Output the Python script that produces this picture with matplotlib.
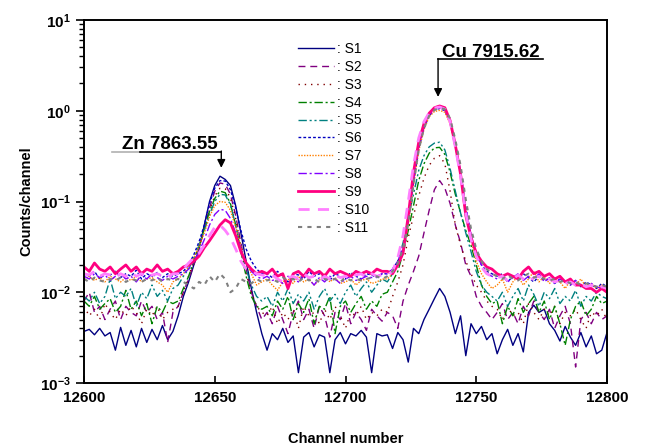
import numpy as np
import matplotlib
matplotlib.use('Agg')
import matplotlib.pyplot as plt
from matplotlib.ticker import FixedLocator, LogLocator, NullFormatter, FuncFormatter

plt.rcParams['font.family'] = ['Liberation Sans', 'DejaVu Sans']
plt.rcParams['mathtext.fontset'] = 'custom'
plt.rcParams['mathtext.rm'] = 'Liberation Sans'
plt.rcParams['mathtext.bf'] = 'Liberation Sans:bold'

# channels (every 2nd channel) and counts per channel in units of 1e-3
channel = np.arange(12600, 12801, 2)

s1 = [3.7, 3.9, 3.4, 4.0, 3.3, 3.6, 2.3, 4.1, 2.6, 3.8, 2.5, 4.0, 2.8, 3.9, 3.0, 4.3, 3.0, 3.7,
      5.5, 9, 13, 20, 30, 55, 100, 150, 190, 175, 150, 90, 45, 22, 11, 6, 3.5,
      2.3, 3.5, 3.0, 4.0, 2.8, 3.3, 1.3, 3.2, 3.6, 2.5, 3.4, 3.2, 1.3, 3.0, 3.6, 2.7, 3.5, 3.3, 3.8,
      3.2, 1.3, 3.5, 3.3, 3.4, 2.4, 3.6, 3.0,
      1.7, 4.0, 3.5, 5.0, 6.5, 8.5, 11, 9, 6, 3.5, 5.5, 2.0, 4.5, 3.5, 4.2,
      3.0, 3.5, 2.1, 3.0, 3.9, 2.6, 3.5, 2.2, 6.0, 7.2, 6.0, 6.5, 4.5, 3.8, 2.9, 4.2, 3.2, 2.6,
      3.6, 2.5, 3.3, 2.1, 2.3, 3.6]
s2 = [8, 10, 6, 7, 5, 6.5, 8, 5, 7, 6, 5.5, 8, 6, 7, 5, 6, 2.8, 6,
      7, 10, 14, 20, 30, 50, 85, 130, 160, 155, 120, 70, 35, 18, 10, 7, 5,
      6, 4.5, 7, 5, 3.5, 6, 8, 5, 6.5, 4, 7, 5.5, 3.2, 6, 5, 7.5, 4.5, 6, 5, 3.8, 6.5, 5.5, 4.8,
      6, 5.5, 4.0, 8, 12, 17, 25, 45, 80, 135, 170, 140, 95, 55, 35, 20, 15, 9, 7, 6, 5,
      6, 7.5, 5, 6, 4.5, 7, 5.5, 8, 6, 5, 6.5, 4, 5.5, 7, 4.5, 1.5, 5, 6, 4.5, 6, 5, 5.5]
s3 = [7, 5.5, 6.5, 5, 7.5, 6, 5, 6.5, 5.5, 7, 6, 4.5, 6.5, 5.5, 7, 5, 6, 6.5,
      7, 10, 15, 22, 32, 50, 80, 115, 140, 138, 110, 65, 32, 16, 10, 7, 6,
      5.5, 7, 4.5, 6, 5, 6.5, 4, 7, 5.5, 6, 4.5, 6.5, 5, 7, 5.5, 4, 6, 5.5, 7, 5, 6, 5.5, 6.5,
      6, 9, 13, 20, 40, 70, 115, 180, 250, 300, 320, 260, 130, 55, 33, 22, 16, 12, 10, 8, 7,
      6.5, 5, 7, 5.5, 6, 4.5, 7.5, 6, 5, 6.5, 5.5, 7, 4.5, 6, 5.5, 6.5, 5, 4, 6, 5.5, 6.5, 5]
s4 = [8, 7, 9, 6.5, 7.5, 8.5, 6, 7, 10.5, 6.5, 8, 5.5, 7.5, 4.5, 7, 6, 8, 7.5,
      8, 11, 15, 22, 32, 50, 78, 108, 130, 125, 95, 55, 28, 15, 9, 7, 6.5,
      7, 5.5, 8, 6.5, 9, 5, 7.5, 6, 8.5, 4.5, 7, 6.5, 9, 3.5, 7, 8, 6, 7.5, 9, 6.5, 8, 7, 9.5,
      10, 13, 17, 27, 48, 90, 170, 260, 340, 390, 395, 330, 210, 120, 75, 48, 33, 20, 12, 9, 7.5,
      8, 4.5, 7, 5.5, 8.5, 6, 7.5, 9, 6, 8, 5, 7, 4.5, 2.6, 5, 7, 8, 5.5, 6.5, 9, 7.5, 8]
s5 = [9, 8, 10, 7.5, 9, 14, 8.5, 10, 9, 11, 7, 10, 8.5, 12, 9, 10.5, 8, 11,
      12, 15, 18, 24, 33, 48, 72, 100, 120, 118, 92, 55, 30, 18, 12, 9, 8,
      9, 7, 10, 8, 11, 7.5, 9.5, 8, 10, 6.5, 9, 11, 8, 9.5, 7.5, 10, 12, 9, 11, 13, 10, 12, 14,
      13, 16, 22, 35, 65, 120, 220, 320, 400, 440, 450, 370, 230, 130, 75, 45, 28, 17, 12, 10, 9,
      8, 10, 7, 9, 11, 8, 12, 9.5, 7, 10, 8.5, 11, 7.5, 9, 8, 10.5, 7, 9, 8, 10, 9, 8.5]
s6 = [16, 15, 17, 14, 16, 15.5, 17, 14.5, 16, 15, 17.5, 14, 16, 15, 16.5, 14.5, 16, 15,
      16, 17, 20, 26, 36, 55, 95, 140, 170, 168, 135, 85, 48, 30, 22, 18, 16,
      16, 14.5, 17, 15, 13, 16, 15.5, 14, 17, 15, 16, 14.5, 13.5, 16, 15, 14, 16.5, 15, 14, 16,
      15.5, 14.5, 16,
      16, 18, 22, 30, 60, 160, 380, 640, 880, 1020, 1060, 1000, 760, 420, 210, 85, 42, 26, 20, 17, 16,
      15, 16, 13, 15, 14, 16, 14.5, 13, 15, 13.5, 14, 12.5, 14, 13, 12, 13.5, 11.5, 13, 12, 11,
      12.5, 11.5]
s7 = [14, 15, 13.5, 14.5, 13, 15, 14, 13, 14.5, 13.5, 15, 13, 14, 14.5, 13, 12, 10, 13,
      14, 16, 19, 24, 32, 45, 68, 90, 100, 98, 80, 52, 32, 21, 16, 12, 13,
      14, 12, 10.5, 13, 14, 12.5, 15, 13, 14, 12, 13.5, 16, 13, 14.5, 12.5, 13, 14, 12, 13.5, 14,
      12.5, 13, 14,
      14, 16, 20, 28, 55, 150, 360, 620, 860, 980, 1010, 960, 720, 400, 200, 80, 38, 22, 16, 13, 11,
      12, 14, 10, 13, 15, 12, 14, 17, 13, 15, 12.5, 14, 13, 11, 13.5, 12, 14, 11.5, 12.5, 11, 12, 10.5]
s8 = [15, 14, 16, 14.5, 15.5, 13.5, 15, 16, 14, 15, 13, 15.5, 14, 16, 14.5, 13.5, 15, 14,
      15, 16, 18, 22, 28, 38, 55, 72, 82, 80, 65, 45, 30, 21, 17, 15, 14,
      15, 13.5, 14, 12.5, 15, 14, 13, 15.5, 14, 12, 14.5, 13, 15, 14, 12.5, 14, 15, 13.5, 14, 15,
      14.5, 15, 16,
      16, 18, 22, 30, 62, 170, 400, 660, 900, 1040, 1080, 1020, 770, 430, 215, 88, 43, 27, 20, 16, 15,
      14, 15, 13, 14.5, 16, 13.5, 15, 14, 16, 13, 14.5, 12.5, 14, 13, 12, 13.5, 12, 11, 12.5, 11.5,
      11, 10]
s9 = [19, 17, 21, 18, 17, 19, 16, 18, 20, 17, 19, 16, 18, 17, 20, 17, 18, 16,
      17, 19, 20, 22, 25, 31, 37, 45, 55, 63, 58, 42, 28, 21, 18, 16, 17,
      16, 18, 15, 16, 11, 16, 17, 15, 18, 16, 17, 15, 18, 16, 17, 16, 15, 17, 16, 17, 16, 18, 17,
      17, 16, 20, 27, 70, 210, 450, 720, 940, 1080, 1130, 1080, 780, 420, 200, 70, 40, 27, 22, 19, 18,
      16, 15, 16, 15, 14, 17, 19, 16, 17, 15, 16, 14, 15, 13, 14, 12, 12, 11, 11, 10, 11, 10]
s10 = [16, 15.5, 17, 15, 16, 15.5, 14.5, 16, 15, 16.5, 15, 16, 14.5, 15.5, 16, 15, 14.5, 16,
       16, 18, 21, 24, 27, 33, 42, 52, 55, 48, 40, 30, 22, 18, 17, 16, 15.5,
       15, 15.5, 14, 13, 14.5, 15, 14, 16, 14.5, 15, 13.5, 15, 14, 15.5, 14.5, 15, 14, 15.5, 16,
       14.5, 16, 15, 15.5,
       15.5, 17, 24, 42, 100, 250, 500, 760, 950, 1070, 1100, 1040, 760, 400, 190, 75, 38, 25, 19, 16, 15,
       14.5, 15, 13.5, 14, 15.5, 14, 13, 14.5, 15, 13.5, 14, 13, 13.5, 12.5, 13, 12, 12.5, 11.5, 12,
       11, 11.5, 11]
s11 = [14, 13, 14.5, 13.5, 13, 14, 13.5, 14.5, 13, 14, 13.5, 13, 14, 13.5, 14.5, 13, 14, 13.5,
       14, 13, 12, 11, 13, 12, 15, 13, 16, 14, 10, 11, 14, 13, 12.5, 14, 13,
       13.5, 14, 13, 14.5, 13.5, 14, 13, 14.5, 13.5, 14, 13, 14, 13.5, 14, 13, 14.5, 13.5, 14, 13.5,
       14, 14.5, 15, 14,
       15, 17, 21, 30, 58, 155, 370, 640, 880, 1020, 1070, 1040, 820, 480, 250, 105, 50, 30, 22, 18, 16,
       15, 14, 15.5, 14, 13.5, 15, 16, 14.5, 15, 14, 13.5, 14, 13, 13.5, 12.5, 13, 12, 12.5, 12, 11.5,
       12, 11.5]

series = [s1, s2, s3, s4, s5, s6, s7, s8, s9, s10, s11]
labels = [': S%d' % (i + 1) for i in range(11)]
colors = ['#000080', '#800080', '#800000', '#008000', '#008080', '#0000C0',
          '#FF8000', '#8000FF', '#FF0080', '#FF80FF', '#808080']
widths = [1.0, 1.0, 1.0, 1.0, 1.0, 1.0, 1.0, 1.0, 2.0, 2.0, 1.5]
dashes = [None, (5, 3.5), (1, 3.5), (6, 2, 1.5, 2), (6, 2, 1.5, 2, 1.5, 2), (2, 1.5),
          (1, 1), (6, 2, 1.5, 2), None, (4, 3), (2, 2.5)]

fig = plt.figure(figsize=(6.46, 4.47), dpi=100)
ax = fig.add_axes([84 / 646, 64 / 447, 523 / 646, 363 / 447])

for y, lab, c, lw, d in zip(series, labels, colors, widths, dashes):
    vals = np.array(y) * 1e-3
    if d is None:
        ax.plot(channel, vals, color=c, lw=lw, label=lab)
    else:
        ax.plot(channel, vals, color=c, lw=lw, dashes=d, label=lab)

ax.set_yscale('log')
ax.set_xlim(12600, 12800)
ax.set_ylim(1e-3, 10)

ax.set_xticks([12600, 12650, 12700, 12750, 12800])
ax.yaxis.set_major_locator(FixedLocator([1e-3, 1e-2, 1e-1, 1, 10]))
ax.yaxis.set_minor_locator(LogLocator(base=10, subs=np.arange(2, 10)))
ax.yaxis.set_minor_formatter(NullFormatter())
ax.yaxis.set_major_formatter(FuncFormatter(
    lambda v, p: r'$\mathbf{10^{%d}}$' % int(round(np.log10(v)))))

ax.tick_params(axis='x', direction='in', length=5, width=1.2, labelsize=11, pad=6)
ax.tick_params(axis='y', which='major', direction='out', length=6, width=1.2, labelsize=11)
ax.tick_params(axis='y', which='minor', direction='out', length=3.5, width=1.0)
for lab in ax.get_xticklabels():
    lab.set_fontweight('bold')
for sp in ax.spines.values():
    sp.set_linewidth(1.4)

ax.set_xlabel('Channel number', fontsize=10.5, fontweight='bold', labelpad=19)
ax.set_ylabel('Counts/channel', fontsize=10.5, fontweight='bold', labelpad=5)

# peak annotations
zn_x, cu_x = 12652.5, 12735.4
ax.plot([12610.7, 12621.5], [0.355, 0.355], color='#b0b0b0', lw=1.2)
ax.plot([12621.5, zn_x], [0.355, 0.355], color='k', lw=1.2)
ax.annotate('', xy=(zn_x, 0.235), xytext=(zn_x, 0.36),
            arrowprops=dict(arrowstyle='-|>', color='k', lw=1.0, mutation_scale=12, shrinkA=0, shrinkB=0))
ax.text(12633, 0.375, 'Zn 7863.55', ha='center', va='baseline', fontsize=13.5, fontweight='bold')

ax.plot([cu_x, 12775.5], [3.7, 3.7], color='k', lw=1.2)
ax.annotate('', xy=(cu_x, 1.42), xytext=(cu_x, 3.75),
            arrowprops=dict(arrowstyle='-|>', color='k', lw=1.0, mutation_scale=12, shrinkA=0, shrinkB=0))
ax.text(12755.5, 3.9, 'Cu 7915.62', ha='center', va='baseline', fontsize=13.5, fontweight='bold')

ax.legend(loc='upper left', bbox_to_anchor=(0.398, 0.955), frameon=False, fontsize=10,
          handlelength=2.6, handletextpad=0.2, labelspacing=0.28, borderaxespad=0)

fig.savefig('out.png', dpi=100)
